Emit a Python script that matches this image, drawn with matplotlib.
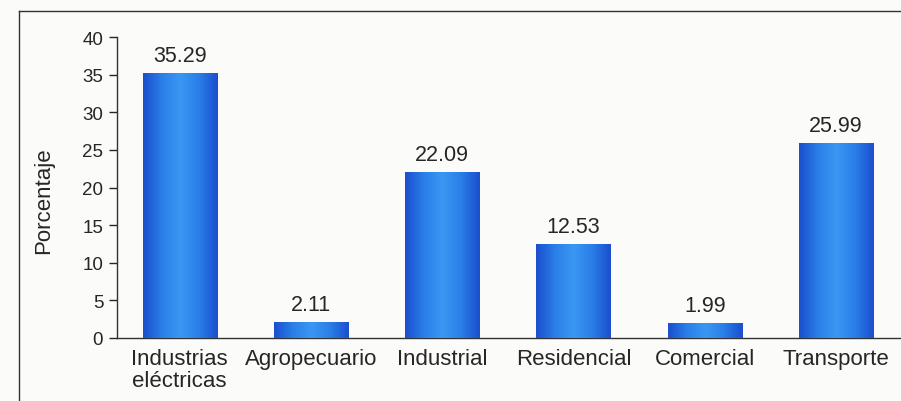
from matplotlib import pyplot as plt
from matplotlib.colors import LinearSegmentedColormap
from matplotlib.lines import Line2D
import numpy as np

categories = [
    "Industrias\neléctricas",
    "Agropecuario",
    "Industrial",
    "Residencial",
    "Comercial",
    "Transporte",
]
values = [35.29, 2.11, 22.09, 12.53, 1.99, 25.99]
value_labels = ["35.29", "2.11", "22.09", "12.53", "1.99", "25.99"]
y_ticks = [0, 5, 10, 15, 20, 25, 30, 35, 40]
y_label = "Porcentaje"

plt.rcParams["font.family"] = ["Liberation Sans", "DejaVu Sans"]
text_color = "#262626"

fig = plt.figure(figsize=(9.01, 4.02), dpi=100)
fig.patch.set_facecolor("#fbfbf9")
ax = fig.add_axes([0.130, 0.157, 0.869, 0.748])
ax.set_facecolor("none")

# shaded blue bars (darker edges, lighter middle)
cmap = LinearSegmentedColormap.from_list(
    "barshade", ["#1c4fcf", "#2a7fe8", "#3a97f2", "#2a7fe8", "#1c4fcf"]
)
grad = np.linspace(0, 1, 64).reshape(1, -1)

x = np.arange(len(categories))
bars = ax.bar(x, values, width=0.565, color="#2a7fe8", edgecolor="none", zorder=2)
for b in bars:
    x0, y0 = b.get_x(), b.get_y()
    w, h = b.get_width(), b.get_height()
    im = ax.imshow(
        grad,
        cmap=cmap,
        aspect="auto",
        extent=[x0, x0 + w, y0, y0 + h],
        zorder=3,
        interpolation="bicubic",
    )
    im.set_clip_path(b)

for xi, v, lab in zip(x, values, value_labels):
    ax.text(xi, v + 0.9, lab, ha="center", va="bottom", fontsize=15.5, color=text_color)

ax.set_xlim(-0.476, 5.487)
ax.set_ylim(0, 40)
ax.set_yticks(y_ticks)
ax.set_xticks(x)
ax.set_xticklabels(categories, fontsize=16, color=text_color, linespacing=1.1)
ax.tick_params(axis="x", length=0, pad=7)
ax.tick_params(axis="y", length=6, width=1, direction="out", labelsize=13.5,
               colors=text_color, pad=4)
for lbl in ax.get_xticklabels():
    lbl.set_verticalalignment("top")
ax.set_ylabel(y_label, fontsize=16, color=text_color)
ax.yaxis.set_label_coords(-0.080, 0.46)

ax.spines["top"].set_visible(False)
ax.spines["right"].set_visible(False)
ax.spines["left"].set_color("#333333")
ax.spines["bottom"].set_color("#333333")
ax.spines["left"].set_linewidth(1.0)
ax.spines["bottom"].set_linewidth(1.0)

# outer frame of the printed figure
fig.add_artist(Line2D([0.021, 0.021], [0.0, 0.97], transform=fig.transFigure,
                      color="#333333", linewidth=1.0))
fig.add_artist(Line2D([0.021, 1.0], [0.97, 0.97], transform=fig.transFigure,
                      color="#333333", linewidth=1.0))

plt.savefig("out.png", dpi=100, facecolor=fig.get_facecolor())
